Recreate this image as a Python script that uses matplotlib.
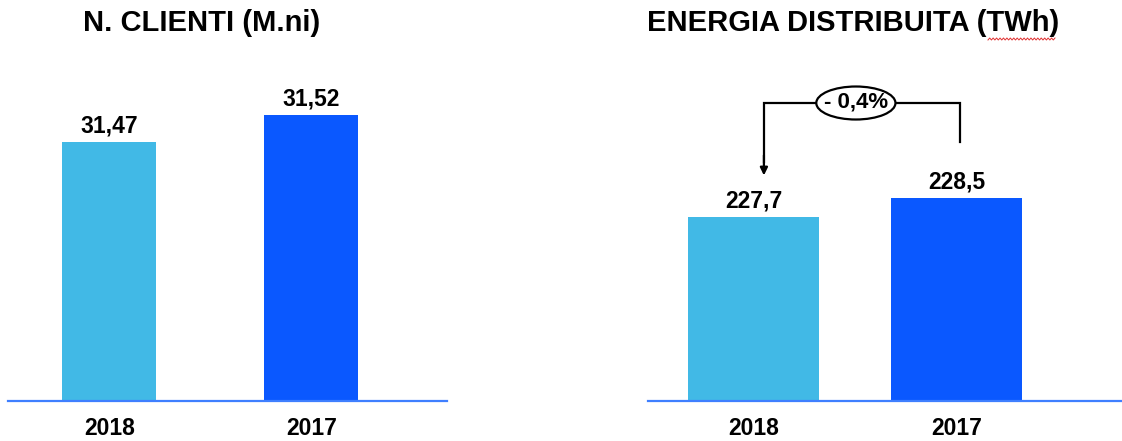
import matplotlib
matplotlib.use("Agg")
import matplotlib.pyplot as plt
from matplotlib.patches import Ellipse
import numpy as np

plt.rcParams['font.family'] = ['Liberation Sans', 'DejaVu Sans']
plt.rcParams['font.weight'] = 'bold'

# Data
years = ["2018", "2017"]
clienti = [31.47, 31.52]
energia = [227.7, 228.5]
energia_var = "- 0,4%"
titles = ["N. CLIENTI (M.ni)", "ENERGIA DISTRIBUITA (TWh)"]

light_blue = "#41B9E6"
dark_blue = "#0A58FF"
axis_blue = "#3F7FFF"

W, H = 1122, 441
fig = plt.figure(figsize=(W / 100, H / 100), dpi=100)

def px_axes(x0, x1, y_top, y_bot):
    return fig.add_axes([x0 / W, 1 - y_bot / H, (x1 - x0) / W, (y_bot - y_top) / H])

def fmt(v, nd):
    return f"{v:.{nd}f}".replace(".", ",")

def style(ax):
    for s in ("top", "right", "left"):
        ax.spines[s].set_visible(False)
    ax.spines["bottom"].set_color(axis_blue)
    ax.spines["bottom"].set_linewidth(1.6)
    ax.set_yticks([])
    ax.tick_params(axis="x", length=0, pad=11.5, labelsize=16.5)
    ax.set_facecolor("none")

# Left panel: customers
ax1 = px_axes(8, 447, 40, 401)
x = np.arange(len(years))
ax1.bar(x, clienti, width=0.465, color=[light_blue, dark_blue], zorder=2)
ax1.set_xlim(-0.502, 1.671)
ax1.set_ylim(30.99, 30.99 + 361 / 540)
ax1.set_xticks(x, years)
style(ax1)
for xi, v in zip(x, clienti):
    ax1.annotate(fmt(v, 2), (xi, v), xytext=(0, 7), textcoords="offset points",
                 ha="center", va="baseline", fontsize=16.5, fontweight="bold")

# Right panel: distributed energy
ax2 = px_axes(648, 1122, 40, 401)
ax2.bar(x, energia, width=0.645, color=[light_blue, dark_blue], zorder=2)
ax2.set_xlim(-0.522, 1.813)
ybase = 219.953
yscale = 23.75  # pixels per TWh
ax2.set_ylim(ybase, ybase + 361 / yscale)
ax2.set_xticks(x, years)
style(ax2)
for xi, v in zip(x, energia):
    ax2.annotate(fmt(v, 1), (xi, v), xytext=(0, 6.5), textcoords="offset points",
                 ha="center", va="baseline", fontsize=16.5, fontweight="bold")

# Variation bracket between the two years
y_top = energia[1] + 4.0
xl, xr = 0.049, 1.015
ax2.plot([xr, xr, xl, xl], [energia[1] + 2.35, y_top, y_top, energia[0] + 2.3],
         color="black", lw=1.6, solid_joinstyle="miter", zorder=3)
ax2.annotate("", xy=(xl, energia[0] + 1.75), xytext=(xl, energia[0] + 2.6),
             arrowprops=dict(arrowstyle="-|>,head_length=0.45,head_width=0.22",
                             color="black", lw=1.6, shrinkA=0, shrinkB=0))
xm = 0.502
ax2.add_patch(Ellipse((xm, y_top), width=0.39, height=33 / yscale,
                      facecolor="white", edgecolor="black", lw=1.6, zorder=4))
ax2.text(xm, y_top + 0.05, energia_var, ha="center", va="center",
         fontsize=16, fontweight="bold", zorder=5)

# Titles
fig.text(202 / W, 1 - 23 / H, titles[0], ha="center", va="center",
         fontsize=21, fontweight="bold")
fig.text(853 / W, 1 - 23 / H, titles[1], ha="center", va="center",
         fontsize=21, fontweight="bold")

# Wavy underline under the unit of the second title
wx = np.linspace(988, 1055, 40)
wy = 39 + 1.0 * np.where(np.arange(40) % 2 == 0, 1, -1)
fig.add_artist(plt.Line2D(wx / W, 1 - wy / H, color="#E03030", lw=0.7))

fig.savefig("out.png", dpi=100, facecolor="white")
